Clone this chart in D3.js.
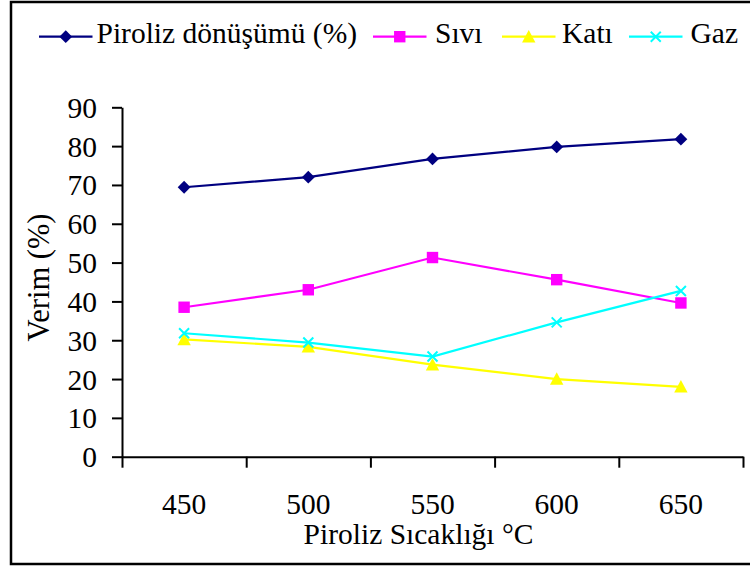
<!DOCTYPE html>
<html>
<head>
<meta charset="utf-8">
<script src="https://cdn.jsdelivr.net/npm/d3@7/dist/d3.min.js"></script>
<style>
  html, body { margin: 0; padding: 0; background: #fff; }
  svg text { font-family: "Liberation Serif", "Times New Roman", Tinos, "DejaVu Serif", serif !important; }
</style>
</head>
<body>
<svg id="chart" width="750" height="567"></svg>
<script>
// Pyrolysis temperatures (°C)
const temperatures = ["450", "500", "550", "600", "650"];

// Yields (%) per temperature
const conversion = [69.4, 72.0, 76.7, 79.8, 81.8];  // Piroliz dönüşümü (%)
const liquid     = [38.5, 43.0, 51.3, 45.6, 39.6];  // Sıvı
const solid      = [30.2, 28.3, 23.7, 20.0, 18.0];  // Katı
const gas        = [31.8, 29.4, 25.8, 34.6, 42.7];  // Gaz

const yTicks = [0, 10, 20, 30, 40, 50, 60, 70, 80, 90];

const seriesNames  = ["Piroliz dönüşümü (%)", "Sıvı", "Katı", "Gaz"];
const seriesValues = [conversion, liquid, solid, gas];
const seriesColors = ["#000080", "#FF00FF", "#FFFF00", "#00FFFF"];
const seriesShapes = ["diamond", "square", "triangle", "cross"];

const svg = d3.select("#chart");
const FONT = 29.5;

// outer frame
svg.append("rect")
  .attr("x", 11).attr("y", 2)
  .attr("width", 760).attr("height", 562)
  .attr("fill", "none").attr("stroke", "#000").attr("stroke-width", 2.5);

const plotLeft = 122, plotRight = 743, plotTop = 107.3, plotBottom = 456.7;

const x = d3.scaleBand().domain(temperatures).range([plotLeft, plotRight]).padding(0);
const xEdges = d3.scaleLinear().domain([0, temperatures.length]).range([plotLeft, plotRight]);
const y = d3.scaleLinear().domain([0, 90]).range([plotBottom, plotTop]);
const cx = t => x(t) + x.bandwidth() / 2;

// y axis
const yAxis = svg.append("g")
  .attr("transform", `translate(${plotLeft},0)`)
  .call(d3.axisLeft(y).tickValues(yTicks).tickSize(10).tickSizeOuter(0).tickPadding(15).tickFormat(d3.format("d")));
yAxis.attr("font-family", null);
yAxis.select(".domain").attr("stroke-width", 2);
yAxis.selectAll(".tick line").attr("stroke-width", 2);
yAxis.selectAll("text")
  .attr("font-size", FONT).attr("fill", "#000")
  .attr("dy", "0.34em");

// x axis: tick marks on category boundaries
const xAxis = svg.append("g")
  .attr("transform", `translate(0,${plotBottom})`)
  .call(d3.axisBottom(xEdges).tickValues(d3.range(temperatures.length + 1)).tickSize(11).tickSizeOuter(0).tickFormat(""));
xAxis.select(".domain").attr("stroke-width", 2);
xAxis.selectAll(".tick line").attr("stroke-width", 2);

// x axis: category labels centred in each band
const xLabels = svg.append("g")
  .attr("transform", `translate(0,${plotBottom})`)
  .call(d3.axisBottom(x).tickSize(0).tickPadding(0));
xLabels.attr("font-family", null);
xLabels.select(".domain").remove();
xLabels.selectAll("text")
  .attr("font-size", FONT).attr("fill", "#000")
  .attr("y", 57.5).attr("dy", 0);

// axis titles
svg.append("text")
  .attr("x", 418.5).attr("y", 544)
  .attr("text-anchor", "middle")
  .attr("font-size", FONT)
  .text("Piroliz Sıcaklığı °C");

svg.append("text")
  .attr("transform", "translate(48.5,277.5) rotate(-90)")
  .attr("text-anchor", "middle")
  .attr("font-size", 30.5)
  .text("Verim (%)");

// marker drawing
function drawMarker(g, shape, color, px, py) {
  if (shape === "diamond") {
    const s = 6.4;
    g.append("path").attr("d", `M${px},${py - s}L${px + s},${py}L${px},${py + s}L${px - s},${py}Z`).attr("fill", color);
  } else if (shape === "square") {
    const s = 5.7;
    g.append("rect").attr("x", px - s).attr("y", py - s).attr("width", 2 * s).attr("height", 2 * s).attr("fill", color);
  } else if (shape === "triangle") {
    g.append("path").attr("d", `M${px},${py - 6.7}L${px + 6.7},${py + 5.7}L${px - 6.7},${py + 5.7}Z`).attr("fill", color);
  } else {
    const s = 5;
    g.append("path").attr("d", `M${px - s},${py - s}L${px + s},${py + s}M${px - s},${py + s}L${px + s},${py - s}`)
      .attr("stroke", color).attr("stroke-width", 2).attr("fill", "none");
  }
}

// series lines and markers
const line = d3.line().x((d, i) => cx(temperatures[i])).y(d => y(d));
seriesValues.forEach((vals, k) => {
  const g = svg.append("g");
  g.append("path").datum(vals)
    .attr("d", line)
    .attr("fill", "none")
    .attr("stroke", seriesColors[k])
    .attr("stroke-width", 2.2);
  vals.forEach((v, i) => drawMarker(g, seriesShapes[k], seriesColors[k], cx(temperatures[i]), y(v)));
});

// legend: one row across the top, each entry a line sample with its marker and name
const legend = svg.append("g");
const legendY = 36.7, lineLen = 53.5;
const legendLineX = [39, 373, 502, 629];
const legendTextX = [96.5, 435, 562, 690.5];
seriesNames.forEach((name, k) => {
  const lx = legendLineX[k];
  legend.append("line")
    .attr("x1", lx).attr("x2", lx + lineLen)
    .attr("y1", legendY).attr("y2", legendY)
    .attr("stroke", seriesColors[k]).attr("stroke-width", 2.2);
  drawMarker(legend, seriesShapes[k], seriesColors[k], lx + lineLen / 2, legendY);
  legend.append("text")
    .attr("x", legendTextX[k]).attr("y", legendY + 6.6)
    .attr("font-size", FONT)
    .text(name);
});
</script>
</body>
</html>
